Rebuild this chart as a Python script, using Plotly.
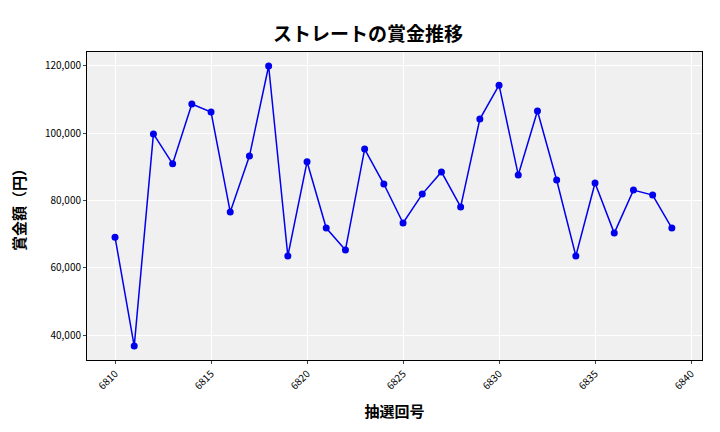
import plotly.graph_objects as go

draws = list(range(6810, 6840))
prizes = [69100, 36700, 99800, 90900, 108700, 106300, 76600, 93200, 120000, 63500,
          91500, 71800, 65300, 95300, 84900, 73300, 81900, 88500, 78100, 104200,
          114300, 87600, 106600, 86100, 63500, 85200, 70300, 83100, 81600, 71800]

font = "Noto Sans CJK JP"

fig = go.Figure(go.Scatter(
    x=draws, y=prizes, mode="lines+markers",
    line=dict(color="#0000ee", width=1.5),
    marker=dict(color="#0000ee", size=7),
))

fig.update_layout(
    width=720, height=432,
    margin=dict(l=79, r=26, t=44, b=80),
    paper_bgcolor="white", plot_bgcolor="#f0f0f0",
    font=dict(family=font, size=10, color="black"),
    title=dict(text="<b>ストレートの賞金推移</b>", x=0.5, xanchor="center",
               y=0.94, yanchor="middle", font=dict(size=19, family=font)),
    showlegend=False,
    xaxis=dict(title=dict(text="<b>抽選回号</b>", font=dict(size=15)),
               range=[6808.54, 6840.57], tickvals=list(range(6810, 6841, 5)),
               tickangle=-45, showgrid=True, gridcolor="white", zeroline=False,
               ticks="outside", ticklen=3, showline=True, linecolor="black", mirror=True),
    yaxis=dict(title=dict(text="<b>賞金額（円）</b>", font=dict(size=15)),
               range=[32570, 124160], tickvals=[40000, 60000, 80000, 100000, 120000],
               tickformat=",", showgrid=True, gridcolor="white", zeroline=False,
               ticks="outside", ticklen=3, showline=True, linecolor="black", mirror=True),
)

fig.write_html("out.html")
